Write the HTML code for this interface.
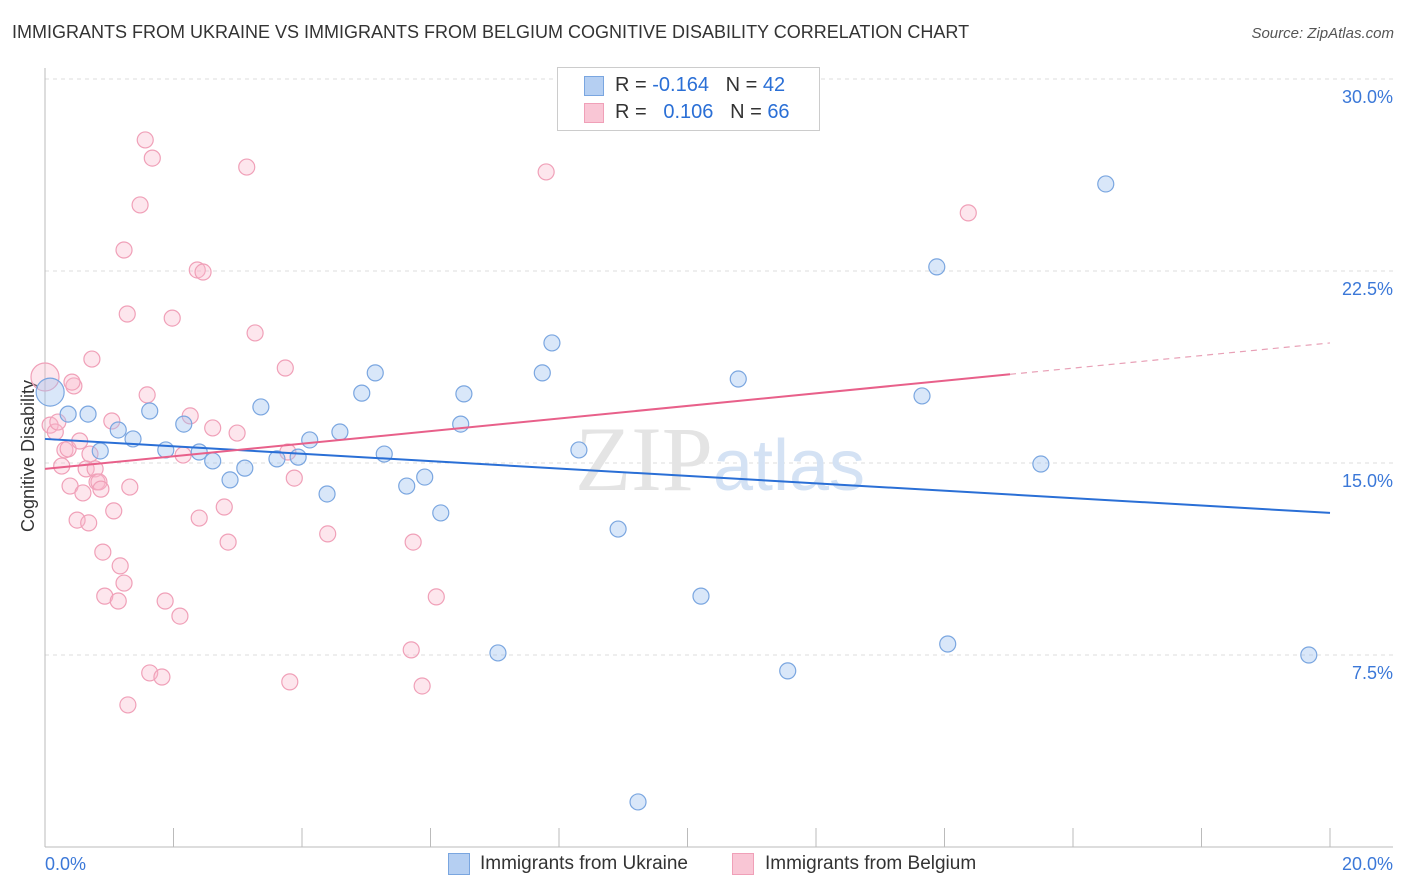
<!DOCTYPE html>
<html><head><meta charset="utf-8">
<style>
body{margin:0;background:#fff;font-family:"Liberation Sans",sans-serif;}
#wrap{position:relative;width:1406px;height:892px;overflow:hidden;}
.t{position:absolute;white-space:nowrap;}
</style></head>
<body>
<div id="wrap">
<div class="t" style="left:12px;top:22px;font-size:18px;color:#333;">IMMIGRANTS FROM UKRAINE VS IMMIGRANTS FROM BELGIUM COGNITIVE DISABILITY CORRELATION CHART</div>
<div class="t" style="right:12px;top:25px;font-size:15px;color:#555;font-style:italic;">Source: ZipAtlas.com</div>
<svg id="svg" width="1406" height="892" style="position:absolute;left:0;top:0"></svg>
</div>
<script>
const ukX=[0.08,0.36,0.67,0.86,1.14,1.37,1.63,1.88,2.16,2.40,2.61,2.88,3.11,3.36,3.61,3.94,4.12,4.39,4.59,4.93,5.14,5.28,5.63,5.91,6.16,6.47,6.52,7.05,7.74,7.89,8.31,8.92,9.23,10.21,10.79,11.56,13.65,13.88,14.05,15.50,16.51,19.67];
const ukY=[17.77,16.91,16.91,15.47,16.29,15.94,17.03,15.51,16.52,15.43,15.08,14.34,14.80,17.19,15.16,15.23,15.90,13.79,16.21,17.73,18.52,15.35,14.10,14.45,13.05,16.52,17.70,7.58,18.52,19.69,15.51,12.42,1.76,9.80,18.28,6.88,17.62,22.66,7.93,14.96,25.90,7.50];
const beX=[0,0.08,0.16,0.20,0.26,0.31,0.36,0.39,0.45,0.42,0.50,0.54,0.59,0.64,0.68,0.70,0.73,0.78,0.81,0.84,0.87,0.90,0.93,1.04,1.07,1.14,1.17,1.23,1.28,1.29,1.32,1.23,1.48,1.56,1.67,1.59,1.63,1.82,1.87,1.98,2.10,2.15,2.26,2.37,2.46,2.40,2.61,2.79,2.85,2.99,3.14,3.27,3.74,3.81,3.88,3.78,4.40,5.70,5.73,5.87,6.09,7.80,14.37];
const beY=[18.36,16.48,16.21,16.60,14.88,15.51,15.55,14.10,18.01,18.16,12.77,15.86,13.83,14.77,12.66,15.35,19.06,14.77,14.26,14.26,13.98,11.52,9.80,16.64,13.13,9.61,10.98,10.31,20.82,5.55,14.06,23.32,25.08,27.62,26.91,17.66,6.80,6.64,9.61,20.66,9.02,15.31,16.84,22.54,22.46,12.85,16.37,13.28,11.91,16.17,26.56,20.08,18.71,6.45,14.41,15.43,12.23,7.70,11.91,6.29,9.77,26.37,24.77];
const ukTrend=[15.94,13.05];
const beTrend=[14.77,19.69];
const yTicks=[7.5,15,22.5,30];
const xTickLabels=["0.0%","20.0%"];
const NS="http://www.w3.org/2000/svg";
const svg=document.getElementById('svg');
const X=v=>45+v*64.25, Y=v=>847-v*25.6;
function mk(t,a){const e=document.createElementNS(NS,t);for(const k in a)e.setAttribute(k,a[k]);svg.appendChild(e);return e;}
// grid
yTicks.forEach(v=>{
 const l=mk('line',{x1:45,x2:1393,y1:Y(v),y2:Y(v),stroke:'#ddd','stroke-dasharray':'4,4'});
 
 
 const t=mk('text',{x:1393,y:Y(v)+24,'text-anchor':'end','font-size':18,fill:'#3b78d8','font-family':'Liberation Sans'});
 t.textContent=(v%1===0?v.toFixed(1):v)+'%';
 
 
});
const ax=mk('line',{x1:45,x2:45,y1:68,y2:847,stroke:'#bbb'});


const bx=mk('line',{x1:45,x2:1393,y1:847,y2:847,stroke:'#bbb'});


for(let i=0;i<=10;i++){const tk=mk('line',{x1:X(i*2),x2:X(i*2),y1:828,y2:847,stroke:'#bbb'});
 
 }
xTickLabels.forEach((s,i)=>{const t=mk('text',{x:i?1393:45,y:870,'text-anchor':i?'end':'start','font-size':18,fill:'#3b78d8','font-family':'Liberation Sans'});t.textContent=s;
 
 });
// watermark
const wm=mk('text',{x:720,y:490,'text-anchor':'middle','font-size':92,fill:'#e4e4e4','font-family':'Liberation Serif'});
wm.innerHTML='ZIP<tspan fill="#d4e2f4" font-family="Liberation Sans" font-size="72">atlas</tspan>';


// y title
const yt=mk('text',{x:34,y:456,'text-anchor':'middle','font-size':18,fill:'#333',transform:'rotate(-90 34 456)','font-family':'Liberation Sans'});yt.textContent='Cognitive Disability';


// points
function pts(xs,ys,fill,stroke,name){xs.forEach((x,i)=>{const c=mk('circle',{cx:X(x),cy:Y(ys[i]),r:i===0?14:8,fill:fill,stroke:stroke,'stroke-width':1.2});
 
 });}
pts(beX,beY,'rgba(248,183,203,0.35)','#f0a0b8','belgium-point');
pts(ukX,ukY,'rgba(160,195,240,0.4)','#7aa6e0','ukraine-point');
// trends
const tu=mk('line',{x1:X(0),y1:Y(ukTrend[0]),x2:X(20),y2:Y(ukTrend[1]),stroke:'#2a6fd6','stroke-width':2});


const xm=15.02, ym=beTrend[0]+(beTrend[1]-beTrend[0])*xm/20;
const tb=mk('line',{x1:X(0),y1:Y(beTrend[0]),x2:X(xm),y2:Y(ym),stroke:'#e8608a','stroke-width':2});


const tbd=mk('line',{x1:X(xm),y1:Y(ym),x2:X(20),y2:Y(beTrend[1]),stroke:'#e8a0b6','stroke-width':1.2,'stroke-dasharray':'6,5'});


</script>
<div class="t" style="left:557px;top:67px;width:261px;height:62px;border:1px solid #ccc;background:#fff;"></div>
<div class="t" style="left:584px;top:76px;width:18px;height:18px;background:#b5cff2;border:1px solid #7aa6e0;"></div>
<div class="t" style="left:615px;top:74px;font-size:20px;color:#333;">R = <span style="color:#2a6fd6">-0.164</span>&nbsp;&nbsp;&nbsp;N = <span style="color:#2a6fd6">42</span></div>
<div class="t" style="left:584px;top:103px;width:18px;height:18px;background:#f9c6d5;border:1px solid #f0a0b8;"></div>
<div class="t" style="left:615px;top:101px;font-size:20px;color:#333;">R = &nbsp;<span style="color:#2a6fd6">&nbsp;0.106</span>&nbsp;&nbsp;&nbsp;N = <span style="color:#2a6fd6">66</span></div>
<div class="t" style="left:448px;top:853px;width:20px;height:20px;background:#b5cff2;border:1px solid #7aa6e0;"></div>
<div class="t" style="left:480px;top:853px;font-size:19px;color:#333;">Immigrants from Ukraine</div>
<div class="t" style="left:732px;top:853px;width:20px;height:20px;background:#f9c6d5;border:1px solid #f0a0b8;"></div>
<div class="t" style="left:765px;top:853px;font-size:19px;color:#333;">Immigrants from Belgium</div>
</body></html>
